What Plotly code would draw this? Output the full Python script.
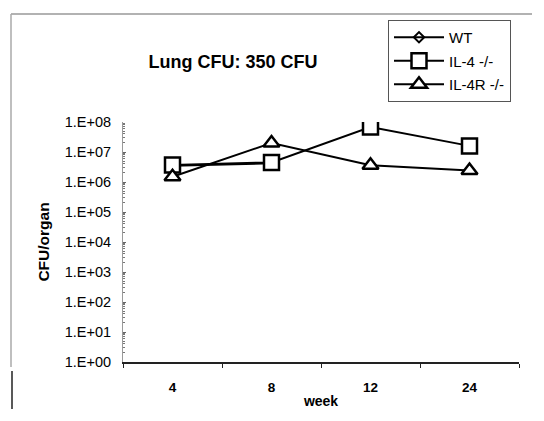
import plotly.graph_objects as go

weeks = ["4", "8", "12", "24"]
wt = [3.5e6, 4.2e6, None, None]
il4 = [3.7e6, 4.5e6, 6.8e7, 1.6e7]
il4r = [1.5e6, 2.0e7, 3.6e6, 2.4e6]
ytick_vals = [1, 10, 100, 1e3, 1e4, 1e5, 1e6, 1e7, 1e8]
ytick_text = ["1.E+00", "1.E+01", "1.E+02", "1.E+03", "1.E+04", "1.E+05", "1.E+06", "1.E+07", "1.E+08"]

# page has an 8px body margin; figure coords = page coords - 8
OFF = 8
W, H = 544 - 2 * OFF - 4, 421 - 2 * OFF - 4
L, R, T, B = 123 - OFF, 519 - OFF, 122 - OFF, 362 - OFF

def px(x):
    return (x - OFF - L) / (R - L)

def py(y):
    return (B - (y - OFF)) / (B - T)

fig = go.Figure()
fig.add_trace(go.Scatter(x=weeks, y=wt, name="WT", mode="lines+markers",
                         line=dict(color="black", width=2), legendgroup="a",
                         marker=dict(symbol="diamond-open", size=8, color="black", line=dict(width=2))))
fig.add_trace(go.Scatter(x=weeks, y=il4, name="IL-4 -/-", mode="lines+markers",
                         line=dict(color="black", width=2), legendgroup="b",
                         marker=dict(symbol="square", size=15, color="white", line=dict(width=2.5, color="black"))))
fig.add_trace(go.Scatter(x=weeks, y=il4r, name="IL-4R -/-", mode="lines+markers",
                         line=dict(color="black", width=2), legendgroup="c",
                         marker=dict(symbol="triangle-up", size=14, color="white", line=dict(width=2.5, color="black"))))

fig.update_layout(
    width=W, height=H,
    margin=dict(l=L, r=W - R, t=T, b=H - B, autoexpand=False),
    paper_bgcolor="white", plot_bgcolor="white",
    font=dict(family="Liberation Sans, Arial", color="black", size=13),
    title=dict(text="<b>Lung CFU: 350 CFU</b>", x=(233 - OFF) / W, y=1 - (62 - OFF) / H,
               xanchor="center", yanchor="middle", font=dict(size=18)),
    legend=dict(x=px(388), y=py(20), xanchor="left", yanchor="top",
                bordercolor="#555", borderwidth=1, bgcolor="white",
                font=dict(size=15), traceorder="grouped", tracegroupgap=1,
                itemwidth=50),
    showlegend=True,
)
fig.update_xaxes(type="category", range=[-0.5, 3.5], showline=True, linecolor="#222", linewidth=2,
                 ticks="outside", tickson="boundaries", ticklen=4, tickcolor="#222",
                 showgrid=False, zeroline=False, ticklabelstandoff=12, automargin=False,
                 title=dict(text="<b>week</b>", font=dict(size=14), standoff=10),
                 tickfont=dict(size=13.5), tickprefix="<b>", ticksuffix="</b>")
fig.update_yaxes(type="log", range=[0, 8], showline=True, linecolor="#999", linewidth=1,
                 tickvals=ytick_vals, ticktext=ytick_text, ticks="inside", ticklen=3,
                 tickcolor="#666", tickwidth=1, showgrid=False,
                 zeroline=False, tickfont=dict(size=14.5), ticklabelstandoff=8, automargin=False,
                 minor=dict(ticks="inside", ticklen=2, tickcolor="#777", dtick="D1", showgrid=False),
                 title=dict(text="<b>CFU/organ</b>", font=dict(size=15.5), standoff=11))

# outer frame lines
fig.add_shape(type="line", xref="paper", yref="paper", x0=px(11), x1=px(532), y0=py(14), y1=py(14),
              line=dict(color="#999", width=1.5))
fig.add_shape(type="line", xref="paper", yref="paper", x0=px(11), x1=px(11), y0=py(14), y1=py(367),
              line=dict(color="#aaa", width=1.5))
fig.add_shape(type="line", xref="paper", yref="paper", x0=px(12), x1=px(12), y0=py(371), y1=py(409),
              line=dict(color="#222", width=1.5))

fig.write_html("out.html")
